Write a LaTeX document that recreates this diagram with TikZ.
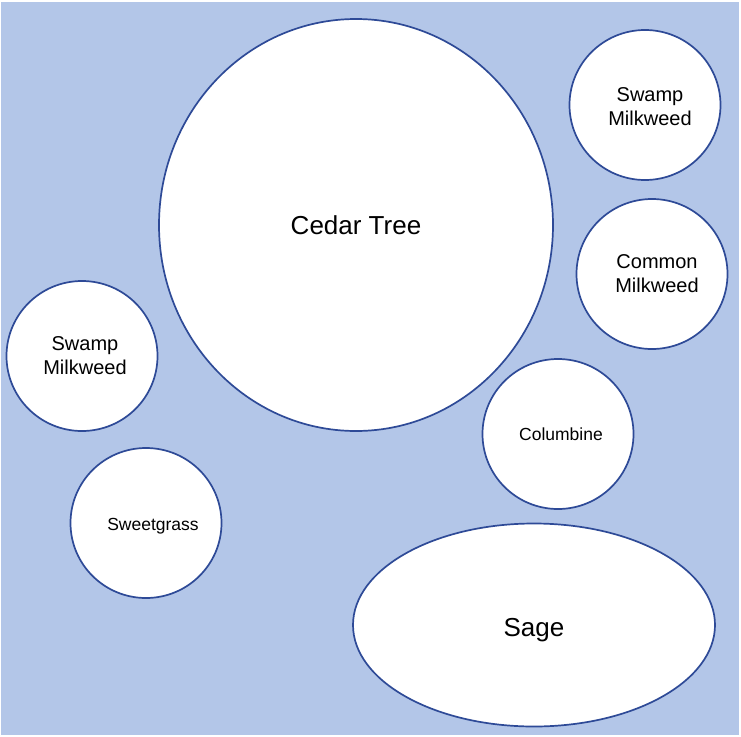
\documentclass[tikz,border=0pt]{standalone}
\usepackage{fontspec}
\setmainfont{Liberation Sans}
\usepackage{xcolor}
\usetikzlibrary{shapes.geometric}

\definecolor{skyfill}{HTML}{B3C6E8}
\definecolor{rimblue}{HTML}{2E4A97}

\begin{document}
\begin{tikzpicture}[
  x=1pt, y=-1pt,
  plant/.style={ellipse, draw=rimblue, line width=1.7pt, fill=white, inner sep=0pt, align=center},
  small/.style={plant, minimum width=151pt, minimum height=150pt},
  big/.style={font=\fontsize{26}{30}\selectfont},
  mid/.style={font=\fontsize{20}{24}\selectfont},
  tiny/.style={font=\fontsize{17.5}{21}\selectfont}
]
\useasboundingbox (0,0) rectangle (741,736);

% Background
\fill[skyfill] (1,2) rectangle (739,735);

% Large plants
\node[plant, big, minimum width=394pt, minimum height=412pt] (cedar) at (356,225) {Cedar Tree};
\node[plant, minimum width=362pt, minimum height=203pt,
      label={[big, yshift=-5pt]center:Sage}] (sage) at (534,625) {};

% Small plants
\node[small, label={[mid, align=center, xshift=5pt, yshift=-2pt]center:Swamp\\Milkweed}] (swampR) at (645,105) {};
\node[small, mid] (common) at (652,274) {\hspace*{10pt}Common\\\hspace*{10pt}Milkweed};
\node[small, mid] (swampL) at (82,356) {\hspace*{6pt}Swamp\\\hspace*{6pt}Milkweed};
\node[small, tiny] (columbine) at (558,434) {\hspace*{6pt}Columbine};
\node[small, label={[tiny, xshift=7pt, yshift=-3pt]center:Sweetgrass}] (sweetgrass) at (146,523) {};

\end{tikzpicture}
\end{document}
